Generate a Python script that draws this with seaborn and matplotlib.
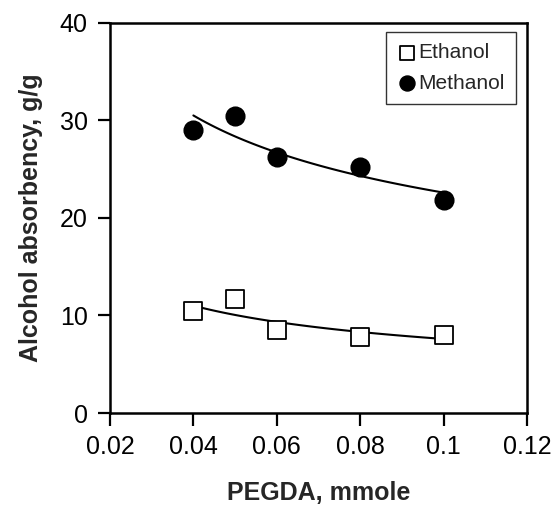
import numpy as np
import pandas as pd
import seaborn as sns
import matplotlib.pyplot as plt

pegda = [0.04, 0.05, 0.06, 0.08, 0.1]
ethanol = [10.5, 11.7, 8.5, 7.8, 8.0]
methanol = [29.0, 30.4, 26.2, 25.2, 21.8]

sns.set_style('ticks')
plt.rcParams['font.family'] = ['Liberation Sans', 'DejaVu Sans']

df = pd.DataFrame({'x': pegda * 2,
                   'y': ethanol + methanol,
                   'series': ['Ethanol'] * 5 + ['Methanol'] * 5})

# power-law trend lines fitted to each series
xfit = np.linspace(min(pegda), max(pegda), 60)
fits = []
for name, vals in [('Ethanol', ethanol), ('Methanol', methanol)]:
    b, a = np.polyfit(np.log(pegda), np.log(vals), 1)
    fits.append(pd.DataFrame({'x': xfit, 'y': np.exp(a) * xfit ** b, 'series': name}))
fitdf = pd.concat(fits)

fig = plt.figure(figsize=(5.55, 5.08), dpi=100)
ax = fig.add_axes([0.198, 0.187, 0.752, 0.768])

sns.lineplot(data=fitdf, x='x', y='y', units='series', estimator=None,
             color='black', linewidth=1.5, ax=ax, legend=False)

sns.scatterplot(data=df[df.series == 'Ethanol'], x='x', y='y', marker='s', s=160,
                facecolor='white', edgecolor='black', linewidth=1.3, ax=ax, label='Ethanol', zorder=3)
sns.scatterplot(data=df[df.series == 'Methanol'], x='x', y='y', marker='o', s=180,
                color='black', edgecolor='black', ax=ax, label='Methanol', zorder=3)

ax.set_xlim(0.02, 0.12)
ax.set_ylim(0, 40)
ax.set_xticks([0.02, 0.04, 0.06, 0.08, 0.1, 0.12])
ax.set_xticklabels(['0.02', '0.04', '0.06', '0.08', '0.1', '0.12'])
ax.set_yticks([0, 10, 20, 30, 40])
ax.tick_params(direction='out', length=9, width=1.6, labelsize=18, pad=7, colors='black')
for sp in ax.spines.values():
    sp.set_visible(True)
    sp.set_linewidth(1.8)
    sp.set_color('black')

ax.set_xlabel('PEGDA, mmole', fontsize=18, fontweight='bold', labelpad=16)
ax.set_ylabel('Alcohol absorbency, g/g', fontsize=18, fontweight='bold', labelpad=12)

leg = ax.legend(loc='upper right', fontsize=15, frameon=True, fancybox=False,
                handletextpad=0.1, markerscale=0.8, borderpad=0.55,
                labelspacing=0.55, handlelength=0.9, borderaxespad=0,
                bbox_to_anchor=(0.974, 0.977))
leg.get_frame().set_edgecolor('black')
leg.get_frame().set_linewidth(1.0)

fig.savefig('out.png', dpi=100)
